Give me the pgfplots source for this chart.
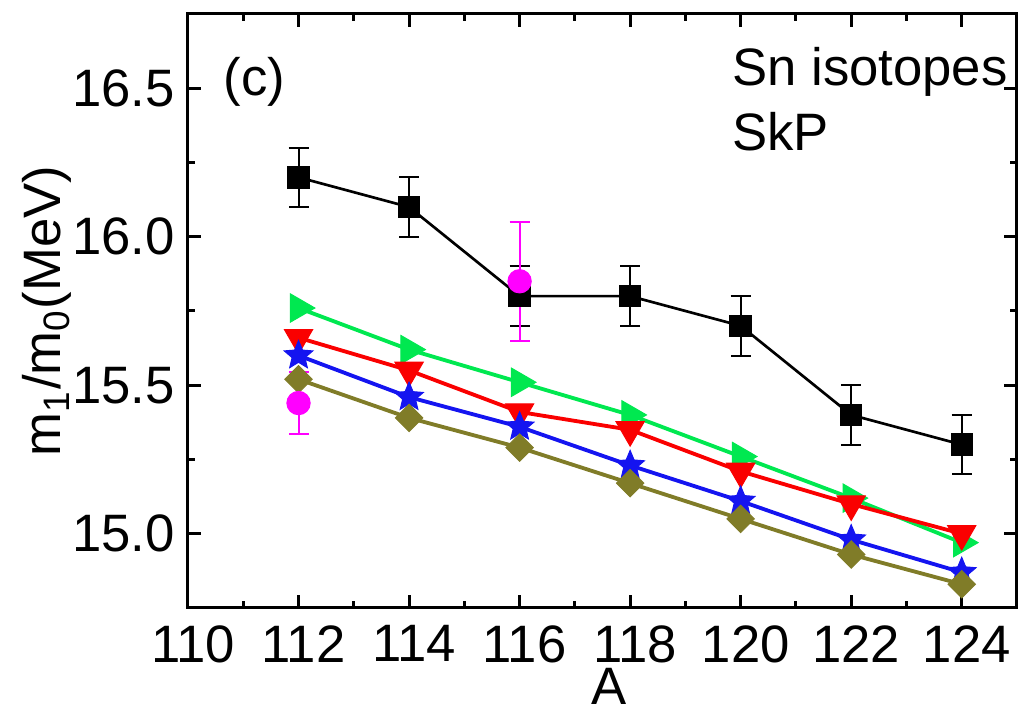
\documentclass[border=0pt]{standalone}
\usepackage{fontspec}
\setmainfont{Liberation Sans}
\usepackage{pgfplots}
\pgfplotsset{compat=1.18}
\definecolor{sgreen}{RGB}{0,232,80}
\definecolor{sred}{RGB}{250,0,0}
\definecolor{sblue}{RGB}{20,20,240}
\definecolor{solive}{RGB}{128,124,40}
\definecolor{smag}{RGB}{255,0,255}

% filled five point star
\pgfdeclareplotmark{fstar}{%
  \pgfpathmoveto{\pgfpointpolar{90}{\pgfplotmarksize}}%
  \pgfpathlineto{\pgfpointpolar{126}{0.45\pgfplotmarksize}}%
  \pgfpathlineto{\pgfpointpolar{162}{\pgfplotmarksize}}%
  \pgfpathlineto{\pgfpointpolar{198}{0.45\pgfplotmarksize}}%
  \pgfpathlineto{\pgfpointpolar{234}{\pgfplotmarksize}}%
  \pgfpathlineto{\pgfpointpolar{270}{0.45\pgfplotmarksize}}%
  \pgfpathlineto{\pgfpointpolar{306}{\pgfplotmarksize}}%
  \pgfpathlineto{\pgfpointpolar{342}{0.45\pgfplotmarksize}}%
  \pgfpathlineto{\pgfpointpolar{18}{\pgfplotmarksize}}%
  \pgfpathlineto{\pgfpointpolar{54}{0.45\pgfplotmarksize}}%
  \pgfpathclose
  \pgfusepathqfillstroke
}

\pgfplotstableread{
A    v     e
112  16.20 0.10
114  16.10 0.10
116  15.80 0.10
118  15.80 0.10
120  15.70 0.10
122  15.40 0.10
124  15.30 0.10
}\expdata

\pgfplotstableread{
A    v     e
112  15.44 0.105
116  15.85 0.20
}\otherexp

\pgfplotstableread{
A    green  red    blue   olive
112  15.76  15.66  15.60  15.52
114  15.62  15.55  15.46  15.39
116  15.51  15.41  15.36  15.29
118  15.40  15.35  15.23  15.17
120  15.26  15.21  15.11  15.05
122  15.12  15.10  14.98  14.93
124  14.97  15.00  14.87  14.83
}\calc

\begin{document}
\fontsize{15.8}{19}\selectfont
\begin{tikzpicture}
\useasboundingbox (-56.4pt,-30.6pt) rectangle (249.6pt,182.4pt);
\begin{axis}[
    scale only axis,
    width=248.7pt,
    height=178.2pt,
    xmin=110, xmax=125,
    ymin=14.75, ymax=16.75,
    xtick={110,112,...,124},
    ytick={15,15.5,16,16.5},
    minor x tick num=1,
    minor y tick num=1,
    tick align=inside,
    tick pos=both,
    ticklabel pos=left,
    major tick length=4pt,
    minor tick length=2.2pt,
    axis line style={line width=0.9pt},
    every tick/.style={black, line width=0.9pt},
    /pgf/number format/assume math mode=true,
    x tick label style={/pgf/number format/1000 sep={}, inner sep=0pt,
        text depth=0pt, yshift=-5.1pt, xshift=1.5pt},
    y tick label style={/pgf/number format/.cd, fixed, fixed zerofill, precision=1, /tikz/.cd, xshift=1.5pt},
    xlabel={A},
    xlabel style={at={(axis description cs:0.5,-0.163)}, anchor=base, inner sep=0pt,
        text height=11pt, text depth=0pt, xshift=2pt},
    ylabel={m\textsubscript{1}/m\textsubscript{0}(MeV)},
    ylabel style={at={(axis description cs:-0.154,0.5)}, anchor=base},
    clip=false,
]
% experiment, black squares
\addplot[black, line width=0.8pt, mark=square*, mark size=3.2pt,
    mark options={solid, line width=0.3pt},
    error bars/.cd, y dir=both, y explicit,
    error bar style={line width=0.6pt, black},
    error mark options={rotate=90, mark size=3pt, line width=0.6pt, black}]
    table[x=A, y=v, y error=e] {\expdata};

\addplot[sgreen, line width=1.15pt, mark=triangle*, mark size=4.9pt,
    mark options={rotate=-90, line width=0.3pt}]
    table[x=A, y=green] {\calc};
\addplot[sred, line width=1.15pt, mark=triangle*, mark size=4.9pt,
    mark options={rotate=180, line width=0.3pt}]
    table[x=A, y=red] {\calc};
\addplot[sblue, line width=1.15pt, mark=fstar, mark size=4.5pt,
    mark options={line width=0.3pt}]
    table[x=A, y=blue] {\calc};
\addplot[solive, line width=1.15pt, mark=square*, mark size=2.9pt,
    mark options={rotate=45, line width=0.3pt}]
    table[x=A, y=olive] {\calc};

% other data, magenta circles
\addplot[smag, only marks, mark=*, mark size=3.5pt,
    mark options={line width=0.3pt},
    error bars/.cd, y dir=both, y explicit,
    error bar style={line width=0.6pt, smag},
    error mark options={rotate=90, mark size=3pt, line width=0.6pt, smag}]
    table[x=A, y=v, y error=e] {\otherexp};

\node[anchor=base west, inner sep=0pt] at (axis cs:110.63,16.476) {(c)};
\node[anchor=base west, inner sep=0pt] at (axis cs:119.84,16.51) {Sn isotopes};
\node[anchor=base west, inner sep=0pt] at (axis cs:119.84,16.29) {SkP};
\end{axis}
\end{tikzpicture}
\end{document}
